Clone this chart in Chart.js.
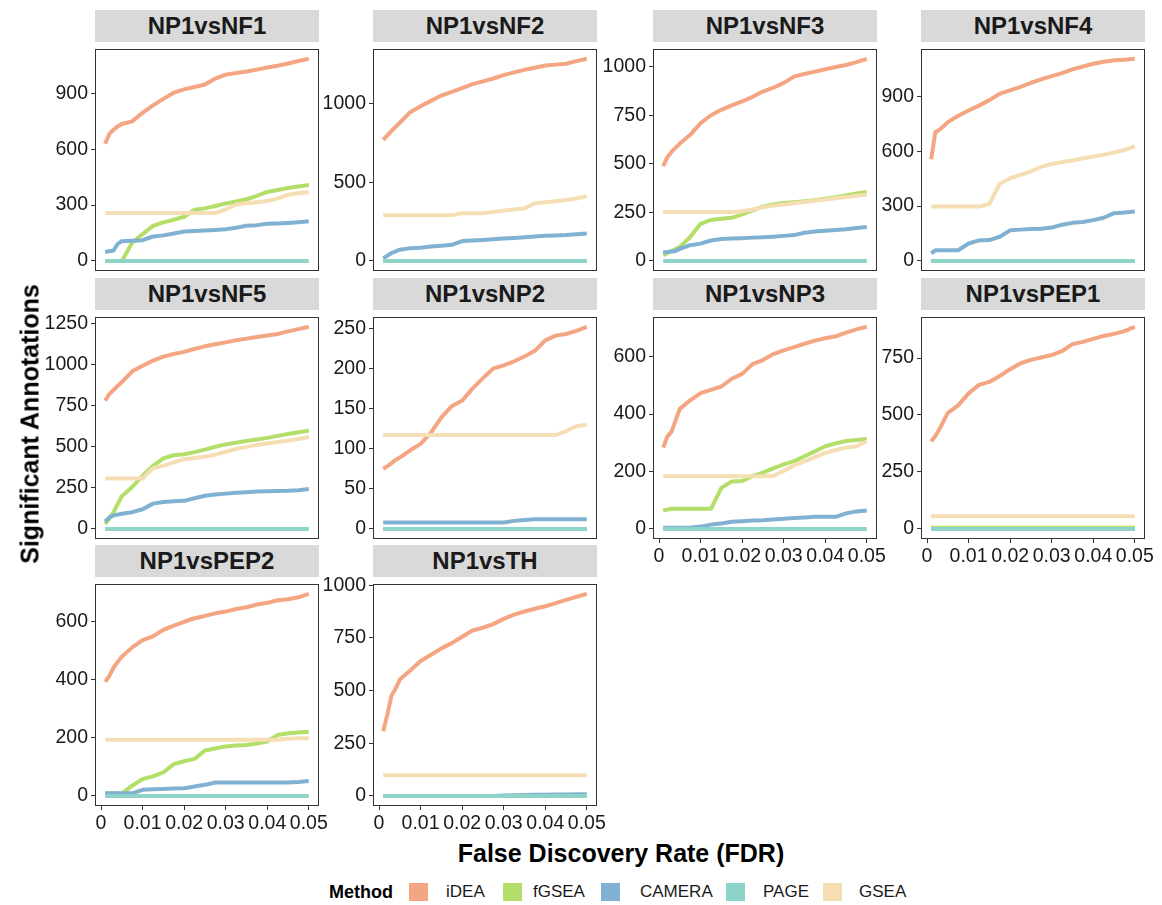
<!DOCTYPE html>
<html>
<head>
<meta charset="utf-8">
<script src="https://cdn.jsdelivr.net/npm/chart.js@4.4.1/dist/chart.umd.min.js"></script>
<style>
  body { margin: 0; background: #fff; font-family: 'Liberation Sans', Arial, sans-serif; }
  #page { position: relative; width: 1162px; height: 905px; overflow: hidden; background: #fff; }
  canvas { position: absolute; }
  .strip { position: absolute; height: 32px; line-height: 32px; background: #d9d9d9; color: #1a1a1a;
           font-weight: bold; font-size: 24px; text-align: center; }
  .ytitle { position: absolute; left: 30px; top: 424px; transform: translate(-50%, -50%) rotate(-90deg);
            font-weight: bold; font-size: 25px; white-space: nowrap; color: #000; }
  .xtitle { position: absolute; left: 621px; top: 853px; transform: translate(-50%, -50%);
            font-weight: bold; font-size: 25px; white-space: nowrap; color: #000; }
  .legend { position: absolute; left: 0; top: 883px; height: 18px; width: 1162px; }
  .legend span { position: absolute; top: 0; line-height: 18px; font-size: 17px; color: #1a1a1a; white-space: nowrap; }
  .legend .head { font-weight: bold; font-size: 18px; color: #000; }
  .legend .key { width: 19px; height: 18px; }
</style>
</head>
<body>
<div id="page"></div>
<script>
// FDR cut-offs shared by every panel
const fdr = [0.001, 0.002, 0.003, 0.004, 0.005, 0.0075, 0.01, 0.0125, 0.015, 0.0175, 0.02, 0.0225,
             0.025, 0.0275, 0.03, 0.0325, 0.035, 0.0375, 0.04, 0.0425, 0.045, 0.0475, 0.05];
const xTicks = [0, 0.01, 0.02, 0.03, 0.04, 0.05];
const xTickLabels = ['0', '0.01', '0.02', '0.03', '0.04', '0.05'];

const methods = ['iDEA', 'fGSEA', 'CAMERA', 'PAGE', 'GSEA'];
const methodColors = ['#F4A582', '#B3DE69', '#80B1D3', '#8DD3C7', '#F5DEB3'];

const noHits = [0, 0, 0, 0, 0, 0, 0, 0, 0, 0, 0, 0, 0, 0, 0, 0, 0, 0, 0, 0, 0, 0, 0];

// significant annotations per comparison
const nf1 = {
  iDEA:   [629, 682, 704, 722, 735, 749, 795, 835, 870, 903, 921, 934, 947, 979, 1000, 1009, 1017, 1027, 1038, 1048, 1060, 1073, 1085],
  fGSEA:  [0, 0, 0, 0, 0, 97, 144, 188, 207, 221, 237, 275, 282, 295, 308, 319, 331, 349, 370, 381, 391, 399, 407],
  CAMERA: [48, 52, 56, 91, 106, 108, 111, 131, 137, 147, 158, 161, 163, 166, 170, 178, 189, 192, 199, 201, 204, 208, 213],
  PAGE:   noHits,
  GSEA:   [257, 257, 257, 257, 257, 257, 257, 257, 257, 257, 257, 257, 257, 257, 277, 303, 309, 315, 321, 336, 355, 364, 369]
};
const nf1Ticks = [0, 300, 600, 900];

const nf2 = {
  iDEA:   [768, 797, 825, 851, 877, 944, 982, 1016, 1050, 1073, 1097, 1122, 1140, 1158, 1179, 1197, 1213, 1226, 1240, 1246, 1252, 1268, 1283],
  fGSEA:  noHits,
  CAMERA: [16, 33, 50, 61, 71, 81, 84, 91, 96, 102, 126, 129, 133, 137, 142, 146, 150, 155, 159, 162, 164, 169, 174],
  PAGE:   noHits,
  GSEA:   [289, 289, 289, 289, 289, 289, 289, 289, 289, 289, 303, 303, 303, 311, 320, 327, 333, 366, 372, 379, 387, 396, 410]
};
const nf2Ticks = [0, 500, 1000];

const nf3 = {
  iDEA:   [488, 535, 562, 584, 605, 650, 710, 751, 779, 802, 822, 846, 873, 893, 918, 950, 964, 976, 988, 1000, 1010, 1025, 1042],
  fGSEA:  [30, 40, 51, 61, 72, 123, 191, 211, 217, 222, 240, 260, 280, 291, 299, 303, 307, 313, 320, 328, 338, 348, 355],
  CAMERA: [43, 46, 49, 51, 62, 81, 89, 105, 113, 115, 117, 120, 122, 125, 129, 133, 145, 151, 155, 159, 163, 170, 175],
  PAGE:   noHits,
  GSEA:   [252, 252, 252, 252, 252, 252, 252, 252, 252, 252, 256, 265, 277, 285, 291, 297, 304, 311, 317, 323, 330, 336, 342]
};
const nf3Ticks = [0, 250, 500, 750, 1000];

const nf4 = {
  iDEA:   [556, 704, 717, 737, 759, 794, 822, 849, 879, 914, 932, 952, 974, 993, 1010, 1027, 1047, 1063, 1078, 1089, 1097, 1100, 1105],
  fGSEA:  noHits,
  CAMERA: [41, 58, 58, 58, 58, 58, 95, 112, 114, 132, 167, 171, 174, 176, 182, 198, 208, 213, 223, 236, 261, 265, 270],
  PAGE:   noHits,
  GSEA:   [297, 297, 297, 297, 297, 297, 297, 297, 311, 422, 452, 470, 490, 514, 530, 540, 549, 561, 570, 581, 592, 606, 627]
};
const nf4Ticks = [0, 300, 600, 900];

const nf5 = {
  iDEA:   [781, 822, 847, 872, 894, 961, 995, 1026, 1050, 1066, 1079, 1097, 1113, 1126, 1137, 1150, 1160, 1170, 1179, 1188, 1204, 1218, 1232],
  fGSEA:  [30, 65, 101, 151, 199, 256, 324, 384, 430, 449, 455, 468, 483, 501, 515, 526, 536, 545, 555, 567, 578, 589, 599],
  CAMERA: [45, 70, 82, 87, 92, 102, 120, 154, 164, 169, 171, 187, 202, 210, 215, 220, 224, 228, 230, 231, 232, 236, 243],
  PAGE:   noHits,
  GSEA:   [307, 307, 307, 307, 307, 307, 307, 370, 384, 405, 425, 432, 440, 453, 470, 488, 500, 512, 520, 530, 538, 548, 560]
};
const nf5Ticks = [0, 250, 500, 750, 1000, 1250];

const np2 = {
  iDEA:   [75, 78, 82, 86, 89, 98, 106, 120, 139, 153, 160, 175, 188, 200, 204, 209, 215, 222, 235, 241, 243, 247, 252],
  fGSEA:  noHits,
  CAMERA: [8, 8, 8, 8, 8, 8, 8, 8, 8, 8, 8, 8, 8, 8, 8, 10, 11, 12, 12, 12, 12, 12, 12],
  PAGE:   noHits,
  GSEA:   [117, 117, 117, 117, 117, 117, 117, 117, 117, 117, 117, 117, 117, 117, 117, 117, 117, 117, 117, 117, 122, 128, 130]
};
const np2Ticks = [0, 50, 100, 150, 200, 250];

const np3 = {
  iDEA:   [283, 322, 338, 379, 418, 448, 473, 484, 496, 523, 540, 574, 588, 609, 622, 633, 645, 656, 664, 671, 684, 695, 704],
  fGSEA:  [64, 67, 70, 70, 70, 70, 70, 70, 143, 165, 167, 184, 196, 211, 225, 236, 253, 270, 288, 298, 306, 310, 313],
  CAMERA: [4, 4, 4, 4, 4, 4, 8, 15, 19, 25, 27, 29, 30, 33, 35, 38, 40, 42, 42, 42, 54, 61, 64],
  PAGE:   noHits,
  GSEA:   [183, 183, 183, 183, 183, 183, 183, 183, 183, 183, 183, 183, 183, 185, 202, 221, 235, 250, 265, 275, 283, 288, 305]
};
const np3Ticks = [0, 200, 400, 600];

const pep1 = {
  iDEA:   [384, 408, 438, 474, 509, 542, 595, 632, 645, 671, 701, 727, 742, 752, 763, 780, 811, 821, 834, 847, 856, 868, 887],
  fGSEA:  [5, 5, 5, 5, 5, 5, 5, 5, 5, 5, 5, 5, 5, 5, 5, 5, 5, 5, 5, 5, 5, 5, 5],
  CAMERA: noHits,
  PAGE:   noHits,
  GSEA:   [56, 56, 56, 56, 56, 56, 56, 56, 56, 56, 56, 56, 56, 56, 56, 56, 56, 56, 56, 56, 56, 56, 56]
};
const pep1Ticks = [0, 250, 500, 750];

const pep2 = {
  iDEA:   [392, 412, 440, 460, 478, 510, 535, 548, 570, 585, 598, 610, 618, 627, 633, 642, 648, 657, 663, 672, 675, 682, 694],
  fGSEA:  [8, 8, 8, 8, 8, 35, 58, 67, 81, 109, 119, 127, 156, 163, 170, 173, 175, 180, 187, 209, 215, 218, 220],
  CAMERA: [9, 9, 9, 9, 9, 9, 21, 23, 24, 25, 26, 32, 38, 46, 46, 46, 46, 46, 46, 46, 46, 48, 51],
  PAGE:   noHits,
  GSEA:   [193, 193, 193, 193, 193, 193, 193, 193, 193, 193, 193, 193, 193, 193, 193, 193, 193, 193, 193, 193, 196, 198, 198]
};
const pep2Ticks = [0, 200, 400, 600];

const th = {
  iDEA:   [307, 385, 476, 510, 552, 595, 640, 670, 700, 725, 755, 785, 798, 815, 840, 860, 875, 888, 900, 915, 930, 945, 959],
  fGSEA:  noHits,
  CAMERA: [0, 0, 0, 0, 0, 0, 0, 0, 0, 0, 0, 0, 0, 0, 2, 3, 4, 5, 6, 7, 7, 8, 8],
  PAGE:   noHits,
  GSEA:   [98, 98, 98, 98, 98, 98, 98, 98, 98, 98, 98, 98, 98, 98, 98, 98, 98, 98, 98, 98, 98, 98, 98]
};
const thTicks = [0, 250, 500, 750, 1000];

const panels = [
  { title: 'NP1vsNF1',  data: nf1,  ticks: nf1Ticks,  col: 0, row: 0, xAxis: false },
  { title: 'NP1vsNF2',  data: nf2,  ticks: nf2Ticks,  col: 1, row: 0, xAxis: false },
  { title: 'NP1vsNF3',  data: nf3,  ticks: nf3Ticks,  col: 2, row: 0, xAxis: false },
  { title: 'NP1vsNF4',  data: nf4,  ticks: nf4Ticks,  col: 3, row: 0, xAxis: false },
  { title: 'NP1vsNF5',  data: nf5,  ticks: nf5Ticks,  col: 0, row: 1, xAxis: false },
  { title: 'NP1vsNP2',  data: np2,  ticks: np2Ticks,  col: 1, row: 1, xAxis: false },
  { title: 'NP1vsNP3',  data: np3,  ticks: np3Ticks,  col: 2, row: 1, xAxis: true },
  { title: 'NP1vsPEP1', data: pep1, ticks: pep1Ticks, col: 3, row: 1, xAxis: true },
  { title: 'NP1vsPEP2', data: pep2, ticks: pep2Ticks, col: 0, row: 2, xAxis: true },
  { title: 'NP1vsTH',   data: th,   ticks: thTicks,   col: 1, row: 2, xAxis: true }
];

// facet geometry
const colLeft = [95, 373, 653, 921];
const rowTop = [42, 310, 577];
const boxW = 224, boxH = 229, stripH = 32;
const padL = 70, padR = 14, padT = 8, padB = 30;

Chart.defaults.font.family = "'Liberation Sans', Arial, sans-serif";
Chart.defaults.color = '#1a1a1a';

// dark frame round each panel, drawn over the lines
const panelFrame = {
  id: 'panelFrame',
  afterDraw(chart) {
    const a = chart.chartArea, ctx = chart.ctx;
    ctx.save();
    ctx.strokeStyle = '#333';
    ctx.lineWidth = 1;
    ctx.strokeRect(Math.round(a.left) + 0.5, Math.round(a.top) + 0.5,
                   Math.round(a.right - a.left) - 1, Math.round(a.bottom - a.top) - 1);
    ctx.restore();
  }
};

const page = document.getElementById('page');
const xLo = fdr[0], xHi = fdr[fdr.length - 1], xPad = 0.05 * (xHi - xLo);

panels.forEach(p => {
  const left = colLeft[p.col], top = rowTop[p.row];

  const strip = document.createElement('div');
  strip.className = 'strip';
  strip.style.left = left + 'px';
  strip.style.top = (top - stripH) + 'px';
  strip.style.width = boxW + 'px';
  strip.textContent = p.title;
  page.appendChild(strip);

  const canvas = document.createElement('canvas');
  canvas.width = boxW + padL + padR;
  canvas.height = boxH + padT + padB;
  canvas.style.left = (left - padL) + 'px';
  canvas.style.top = (top - padT) + 'px';
  page.appendChild(canvas);

  const all = methods.flatMap(m => p.data[m]);
  const yLo = Math.min(...all), yHi = Math.max(...all), yPad = 0.05 * (yHi - yLo);

  new Chart(canvas, {
    type: 'line',
    data: {
      datasets: methods.map((m, i) => ({
        label: m,
        data: p.data[m].map((v, k) => ({ x: fdr[k], y: v })),
        borderColor: methodColors[i],
        borderWidth: 4,
        borderJoinStyle: 'round',
        pointRadius: 0,
        tension: 0,
        fill: false,
        order: methods.length - i
      }))
    },
    options: {
      responsive: false,
      animation: false,
      devicePixelRatio: 1,
      layout: { padding: { left: 0, right: padR, top: padT, bottom: 0 } },
      plugins: { legend: { display: false }, tooltip: { enabled: false } },
      scales: {
        x: {
          type: 'linear',
          min: xLo - xPad,
          max: xHi + xPad,
          afterFit(s) { s.height = padB; },
          afterBuildTicks(s) { s.ticks = xTicks.map(v => ({ value: v })); },
          border: { display: false },
          grid: { drawOnChartArea: false, drawTicks: p.xAxis, tickLength: 4, color: '#333' },
          ticks: {
            display: p.xAxis,
            padding: 2,
            maxRotation: 0,
            autoSkip: false,
            color: '#1a1a1a',
            font: { size: 19.5 },
            callback: v => xTickLabels[xTicks.indexOf(v)]
          }
        },
        y: {
          type: 'linear',
          min: yLo - yPad,
          max: yHi + yPad,
          afterFit(s) { s.width = padL; },
          afterBuildTicks(s) { s.ticks = p.ticks.map(v => ({ value: v })); },
          border: { display: false },
          grid: { drawOnChartArea: false, drawTicks: true, tickLength: 4, color: '#333' },
          ticks: {
            padding: 3,
            autoSkip: false,
            color: '#1a1a1a',
            font: { size: 19.5 },
            callback: v => String(v)
          }
        }
      }
    },
    plugins: [panelFrame]
  });
});

// axis titles
const yTitle = document.createElement('div');
yTitle.className = 'ytitle';
yTitle.textContent = 'Significant Annotations';
page.appendChild(yTitle);

const xTitle = document.createElement('div');
xTitle.className = 'xtitle';
xTitle.textContent = 'False Discovery Rate (FDR)';
page.appendChild(xTitle);

// legend row
const legend = document.createElement('div');
legend.className = 'legend';
const head = document.createElement('span');
head.className = 'head';
head.style.left = '329px';
head.textContent = 'Method';
legend.appendChild(head);
const keyLeft = [409, 503, 601, 726, 823];
const labelLeft = [446, 533, 640, 763, 859];
methods.forEach((m, i) => {
  const key = document.createElement('span');
  key.className = 'key';
  key.style.left = keyLeft[i] + 'px';
  key.style.background = methodColors[i];
  legend.appendChild(key);
  const lab = document.createElement('span');
  lab.style.left = labelLeft[i] + 'px';
  lab.textContent = m;
  legend.appendChild(lab);
});
page.appendChild(legend);
</script>
</body>
</html>
